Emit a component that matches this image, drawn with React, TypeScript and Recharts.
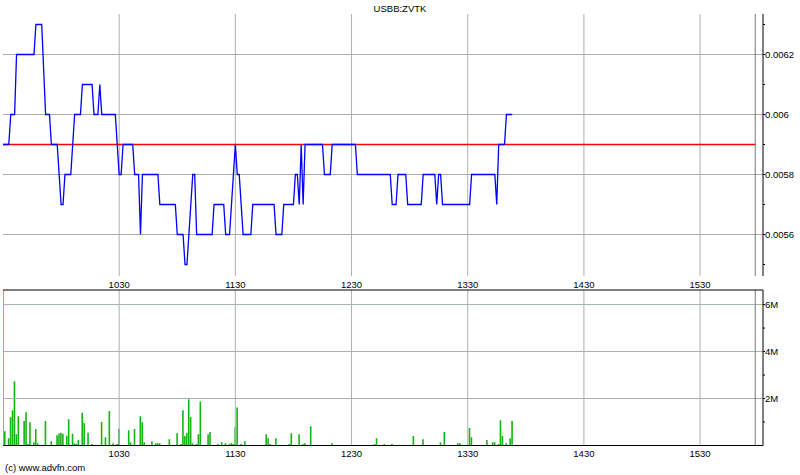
import { ComposedChart, Line, Bar, XAxis, YAxis, ReferenceLine } from "recharts";

// time is minutes after 09:30
const symbol = "USBB:ZVTK";
const prevClose = 0.0059;
const sessionEnd = 388.5;
const timeDomain = [0, 392.5];
const hourTicks = [60, 120, 180, 240, 300, 360];
const hourLabels = ["1030", "1130", "1230", "1330", "1430", "1530"];

const priceTimes = [
    0, 3, 4, 6, 7, 16, 17, 20, 22, 24, 25, 28, 30, 31, 32, 35, 37, 40, 41, 46, 47, 49, 50, 51, 58, 60,
    61, 62, 67, 68, 70, 71, 72, 80, 81, 89, 90, 93, 94, 95, 98, 99, 100, 108, 109, 114, 115, 117, 119,
    120, 121, 122, 124, 128, 129, 140, 141, 144, 145, 150, 151, 152, 153, 154, 155, 156, 165, 166, 169,
    170, 182, 183, 200, 201, 203, 204, 208, 209, 216, 217, 223, 224, 225, 226, 227, 241, 242, 254, 255,
    256, 259, 260, 263,
];
const prices = [
    0.0059, 0.0059, 0.006, 0.006, 0.0062, 0.0062, 0.0063, 0.0063, 0.006, 0.006, 0.0059, 0.0059, 0.0057,
    0.0057, 0.0058, 0.0058, 0.006, 0.006, 0.0061, 0.0061, 0.006, 0.006, 0.0061, 0.006, 0.006, 0.0058,
    0.0058, 0.0059, 0.0059, 0.0058, 0.0058, 0.0056, 0.0058, 0.0058, 0.0057, 0.0057, 0.0056, 0.0056,
    0.0055, 0.0055, 0.0058, 0.0058, 0.0056, 0.0056, 0.0057, 0.0057, 0.0056, 0.0056, 0.0058, 0.0059,
    0.0058, 0.0058, 0.0056, 0.0056, 0.0057, 0.0057, 0.0056, 0.0056, 0.0057, 0.0057, 0.0058, 0.0058,
    0.0057, 0.0059, 0.0057, 0.0059, 0.0059, 0.0058, 0.0058, 0.0059, 0.0059, 0.0058, 0.0058, 0.0057,
    0.0057, 0.0058, 0.0058, 0.0057, 0.0057, 0.0058, 0.0058, 0.0057, 0.0058, 0.0058, 0.0057, 0.0057,
    0.0058, 0.0058, 0.0057, 0.0059, 0.0059, 0.006, 0.006,
];
const priceDomain = [0.00546167, 0.006335];
const priceTicks = [0.0055, 0.0056, 0.0057, 0.0058, 0.0059, 0.006, 0.0061, 0.0062, 0.0063];
const priceGrid = [0.0056, 0.0058, 0.006, 0.0062];

// volume in millions of shares
const volumeTimes = [
    0, 1, 3, 4, 5, 6, 7, 8, 11, 12, 13, 14, 16, 17, 18, 22, 25, 28, 29, 30, 31, 33, 34, 36, 37, 38, 39,
    41, 42, 44, 46, 51, 53, 55, 57, 59, 60, 65, 66, 68, 71, 72, 73, 77, 79, 80, 81, 86, 90, 92, 93, 94,
    95, 96, 97, 98, 100, 101, 102, 106, 107, 111, 113, 115, 117, 118, 119, 120, 121, 123, 125, 136, 137,
    138, 141, 148, 149, 153, 155, 156, 159, 170, 192, 193, 197, 201, 212, 217, 226, 228, 235, 236, 241,
    242, 250, 253, 254, 256, 257, 258, 260, 262, 263,
];
const volumes = [
    7.5, 0.61, 0.31, 1.2, 1.5, 2.74, 0.48, 1.25, 1.04, 1.42, 0.06, 0.99, 0.14, 0.7, 0.1, 1.04, 0.18,
    0.44, 0.51, 0.54, 0.5, 0.41, 1.12, 0.5, 0.1, 0.06, 0.24, 1.39, 0.96, 0.54, 0.06, 1.0, 0.35, 1.47,
    0.1, 0.06, 0.7, 0.65, 0.14, 0.7, 1.25, 0.99, 0.14, 0.18, 0.1, 0.1, 0.1, 0.27, 0.52, 0.06, 1.5, 0.4,
    0.52, 1.97, 1.2, 0.1, 0.06, 0.48, 1.87, 0.48, 0.57, 0.06, 0.14, 0.1, 0.06, 0.1, 0.06, 0.78, 1.62,
    0.06, 0.18, 0.48, 0.31, 0.06, 0.31, 0.06, 0.52, 0.48, 0.06, 0.1, 0.82, 0.1, 0.06, 0.31, 0.06, 0.06,
    0.4, 0.27, 0.14, 0.57, 0.1, 0.1, 0.74, 0.35, 0.23, 0.14, 0.14, 0.06, 1.08, 0.4, 0.1, 0.31, 1.04,
];
const volumeDomain = [0, 6.62];
const volumeTicks = [1, 2, 3, 4, 5, 6];
const volumeGrid = [2, 4, 6];

const FONT = "'Liberation Sans', Arial, sans-serif";
const tickStyle = { fontSize: 9.5, fill: "#000", fontFamily: FONT };
const vGridColor = "#b0b0b0";
const hGridColor = "#a4b0b0";

// the price panel is plotted in units of 0.0001 so the axis works on whole numbers
const PIP = 10000;
const toPip = (v: number) => Math.round(v * PIP * 1000) / 1000;
const pipDomain = priceDomain.map(toPip);
const pipTicks = priceTicks.map(toPip);
const pipGrid = priceGrid.map(toPip);
const pipClose = toPip(prevClose);

const priceData = priceTimes.map((t, i) => ({ t, p: toPip(prices[i]) }));
const volumeData = volumeTimes.map((t, i) => ({ t, v: volumes[i] }));

const timeLabel = (t: number) => hourLabels[hourTicks.indexOf(t)] ?? "";
const priceLabel = (v: number) => (Math.round(v) % 2 === 0 ? String(Math.round(v) / PIP) : "");
const volumeLabel = (v: number) => (v % 2 === 0 ? `${v}M` : "");

export default function App() {
    return (
        <div style={{ position: "absolute", left: 0, top: 0, width: 800, height: 475, background: "#fff", fontFamily: FONT }}>
            <div style={{ position: "absolute", top: 3, left: 0, width: 800, textAlign: "center", fontSize: 9.5, lineHeight: "11px" }}>
                {symbol}
            </div>

            <div style={{ position: "absolute", top: 0, left: 0 }}>
                <ComposedChart width={800} height={290} data={priceData} margin={{ top: 14, right: 0, bottom: 14, left: 3 }}>
                    <XAxis xAxisId="t" dataKey="t" orientation="top" type="number" domain={timeDomain} ticks={hourTicks} allowDataOverflow
                        height={0} tick={false} tickLine={false} axisLine={{ stroke: "#000" }} />
                    <XAxis xAxisId="b" dataKey="t" type="number" domain={timeDomain} ticks={hourTicks} allowDataOverflow
                        height={0} tick={false} tickLine={false} axisLine={{ stroke: "#000" }} />
                    <YAxis yAxisId="l" orientation="left" mirror width={0} domain={pipDomain} ticks={pipTicks} allowDataOverflow
                        tick={false} tickSize={3} tickLine={{ stroke: "#000" }} axisLine={{ stroke: "#000" }} />
                    <YAxis yAxisId="r" orientation="right" width={37} domain={pipDomain} ticks={pipTicks} allowDataOverflow
                        tickFormatter={priceLabel} tick={tickStyle} tickSize={2} tickMargin={0}
                        tickLine={{ stroke: "#000" }} axisLine={{ stroke: "#000" }} />
                    {pipGrid.map((v) => (
                        <ReferenceLine key={"h" + v} xAxisId="b" yAxisId="r" stroke={hGridColor}
                            segment={[{ x: timeDomain[0], y: v }, { x: timeDomain[1], y: v }]} />
                    ))}
                    {hourTicks.map((t) => (
                        <ReferenceLine key={"v" + t} xAxisId="b" yAxisId="r" x={t} stroke={vGridColor} />
                    ))}
                    <ReferenceLine xAxisId="b" yAxisId="r" x={sessionEnd} stroke="#7a7a7a" />
                    <ReferenceLine xAxisId="b" yAxisId="r" stroke="#ff0000" strokeWidth={1.3}
                        segment={[{ x: 0, y: pipClose }, { x: sessionEnd, y: pipClose }]} />
                    <Line xAxisId="t" yAxisId="l" dataKey="p" stroke="none" dot={false} isAnimationActive={false} />
                    <Line xAxisId="b" yAxisId="r" type="linear" dataKey="p" stroke="#0000ff" strokeWidth={1.3}
                        dot={false} isAnimationActive={false} />
                </ComposedChart>
            </div>

            <div style={{ position: "absolute", top: 276, left: 0 }}>
                <ComposedChart width={800} height={199} data={volumeData} margin={{ top: 0, right: 0, bottom: 9.5, left: 3 }}>
                    <XAxis xAxisId="t" dataKey="t" orientation="top" type="number" domain={timeDomain} ticks={hourTicks} allowDataOverflow
                        height={14} tickFormatter={timeLabel} tick={tickStyle} tickSize={0} tickMargin={2}
                        tickLine={false} axisLine={{ stroke: "#000" }} />
                    <XAxis xAxisId="b" dataKey="t" type="number" domain={timeDomain} ticks={hourTicks} allowDataOverflow
                        height={20} tickFormatter={timeLabel} tick={tickStyle} tickSize={0} tickMargin={5}
                        tickLine={false} axisLine={{ stroke: "#000" }} />
                    <YAxis yAxisId="l" orientation="left" mirror width={0} domain={volumeDomain} ticks={volumeTicks} allowDataOverflow
                        tick={false} tickSize={3} tickLine={{ stroke: "#000" }} axisLine={{ stroke: "#000" }} />
                    <YAxis yAxisId="r" orientation="right" width={37} domain={volumeDomain} ticks={volumeTicks} allowDataOverflow
                        tickFormatter={volumeLabel} tick={tickStyle} tickSize={2} tickMargin={0}
                        tickLine={{ stroke: "#000" }} axisLine={{ stroke: "#000" }} />
                    {volumeGrid.map((v) => (
                        <ReferenceLine key={"h" + v} xAxisId="b" yAxisId="r" stroke={hGridColor}
                            segment={[{ x: timeDomain[0], y: v }, { x: timeDomain[1], y: v }]} />
                    ))}
                    {hourTicks.map((t) => (
                        <ReferenceLine key={"v" + t} xAxisId="b" yAxisId="r" x={t} stroke={vGridColor} />
                    ))}
                    <ReferenceLine xAxisId="b" yAxisId="r" x={sessionEnd} stroke="#7a7a7a" />
                    <Line xAxisId="t" yAxisId="l" dataKey="v" stroke="none" dot={false} isAnimationActive={false} />
                    <Bar xAxisId="b" yAxisId="r" dataKey="v" barSize={1.6} fill="#14b414" isAnimationActive={false} />
                </ComposedChart>
            </div>

            <div style={{ position: "absolute", top: 462, left: 5, fontSize: 9.5, lineHeight: "11px" }}>
                (c) www.advfn.com
            </div>
        </div>
    );
}
